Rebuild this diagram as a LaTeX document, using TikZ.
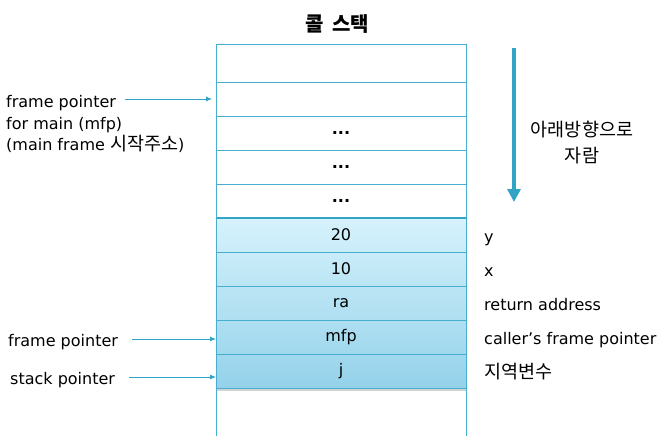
\documentclass[tikz,border=0pt]{standalone}
\usepackage{fontspec}
\setmainfont{DejaVu Sans}
\newfontfamily\kr{Noto Sans CJK KR}
\usetikzlibrary{positioning, arrows.meta, shadows, backgrounds}
\definecolor{stackline}{RGB}{72,174,206}
\definecolor{growblue}{RGB}{50,164,198}
\definecolor{frametop}{RGB}{214,242,252}
\definecolor{framebot}{RGB}{148,210,234}

\begin{document}
\begin{tikzpicture}[
  x=1pt, y=-1pt,
  font=\fontsize{16}{21.5}\selectfont,
  cell/.style={draw=stackline, line width=0.8pt, minimum width=250pt, minimum height=34pt, inner sep=0pt, outer sep=0pt},
  lbl/.style={anchor=west, inner sep=0pt, text height=14pt, text depth=0pt},
  ptr/.style={draw=growblue, line width=0.8pt, -{Latex[length=6pt, width=5pt]}},
  hangul/.style={font=\kr\fontsize{18.5}{26}\selectfont},
]
\useasboundingbox (0,0) rectangle (670,436);

% --- title
\node[font=\kr\fontsize{20}{22}\selectfont\bfseries] (title) at (337,24) {콜\hspace{4pt} 스택};

% --- upper part of the stack: older slots
\node[cell, minimum height=38pt] (r0) at (341,63) {};
\node[cell, below=0pt of r0] (r1) {};
\node[cell, below=0pt of r1] (r2) {\textbf{...}};
\node[cell, below=0pt of r2] (r3) {\textbf{...}};
\node[cell, below=0pt of r3] (r4) {\textbf{...}};

% --- current frame (shaded)
\node[cell, below=0pt of r4] (a0) {20};
\node[cell, below=0pt of a0] (a1) {10};
\node[cell, below=0pt of a1] (a2) {ra};
\node[cell, below=0pt of a2] (a3) {mfp};
\node[cell, below=0pt of a3] (a4) {j};
\begin{scope}[on background layer]
  \shade[top color=frametop, bottom color=framebot,
    drop shadow={shadow xshift=0pt, shadow yshift=-2.5pt, opacity=0.35}]
    (a0.north west) rectangle (a4.south east);
\end{scope}
\draw[growblue, line width=2pt] (a0.north west) -- (a0.north east);

% --- column walls run on to the bottom edge
\coordinate (floor) at (341,436);
\draw[stackline, line width=0.8pt] (r0.north west) -- (r0.north west |- floor);
\draw[stackline, line width=0.8pt] (r0.north east) -- (r0.north east |- floor);

% --- pointers on the left
\node[anchor=west, align=left, inner sep=0pt] (mfpnote) at (6,124)
  {frame pointer\\for main (mfp)\\(main frame {\kr\fontsize{18.5}{21.5}\selectfont 시작주소})};
\coordinate (mfptail) at (125,99);
\draw[ptr, shorten >=4pt] (mfptail) -- (mfptail -| r1.west);

\node[lbl] (fp) at (8,339) {frame pointer};
\draw[ptr, shorten <=14pt] (fp.east) -- (fp.east -| a3.west);
\node[lbl] (sp) at (10,377) {stack pointer};
\draw[ptr, shorten <=14pt] (sp.east) -- (sp.east -| a4.west);

% --- slot meanings on the right
\node[lbl, right=18pt of a0] (ny) {y};
\node[lbl, right=18pt of a1] (nx) {x};
\node[lbl, right=18pt of a2] (nra) {return address};
\node[lbl, right=18pt of a3] (nmfp) {caller’s frame pointer};
\node[lbl, hangul, right=18pt of a4] (nj) {지역변수};

% --- growth direction
\coordinate (growtop) at (514,48);
\coordinate (growend) at (514,202);
\draw[growblue, line width=4pt, -{Triangle[length=13pt, width=13pt]}] (growtop) -- (growend);
\node[hangul, align=center] (grownote) at (582,143) {아래방향으로\\자람};

\end{tikzpicture}
\end{document}
